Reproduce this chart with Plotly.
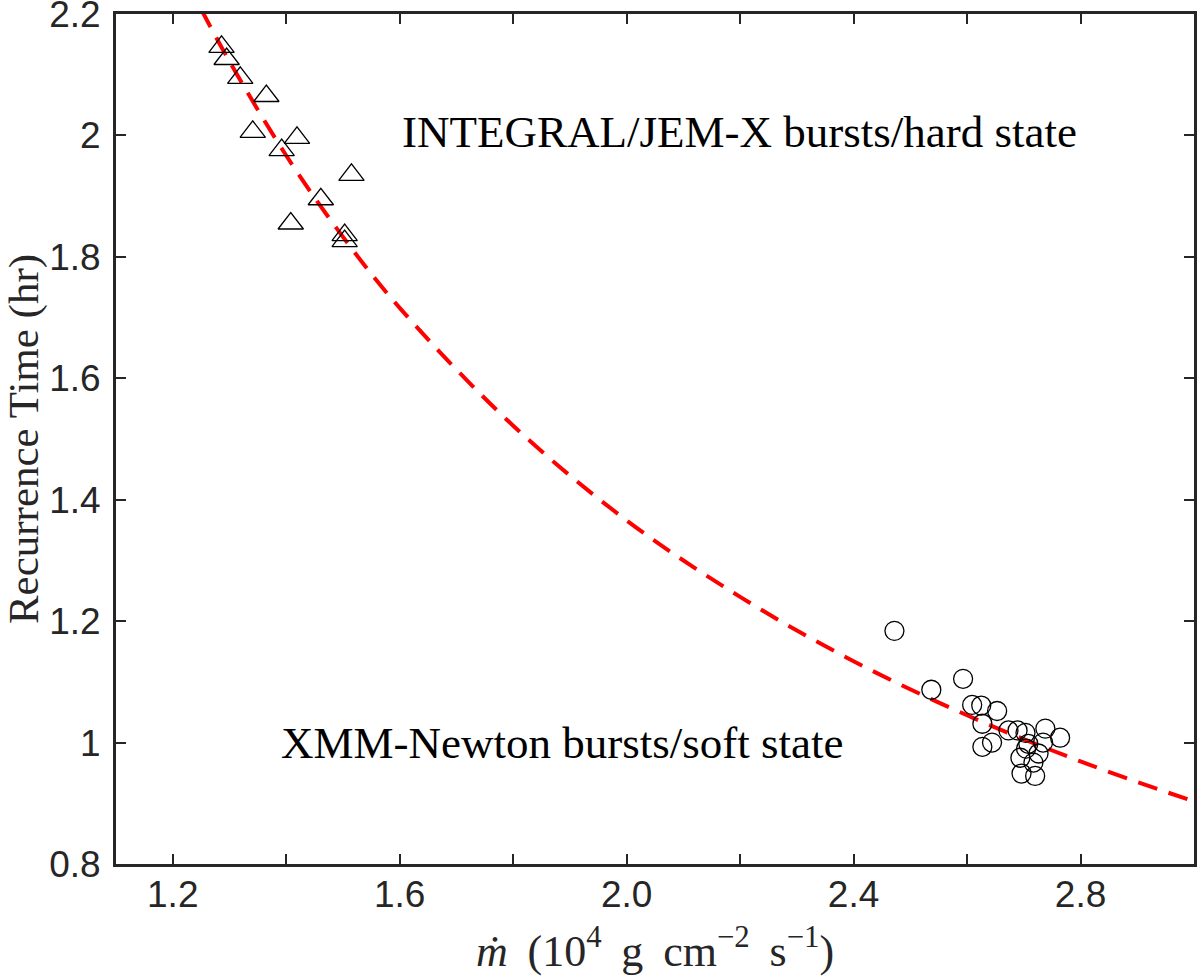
import plotly.graph_objects as go

# INTEGRAL/JEM-X bursts (hard state)
integral_mdot = [1.286, 1.295, 1.319, 1.365, 1.341, 1.419, 1.392, 1.515, 1.461, 1.408, 1.503, 1.503]
integral_trec = [2.146, 2.126, 2.095, 2.065, 2.006, 1.996, 1.976, 1.935, 1.895, 1.855, 1.836, 1.826]

# XMM-Newton bursts (soft state)
xmm_mdot = [2.472, 2.537, 2.593, 2.609, 2.625, 2.653, 2.627, 2.644, 2.627, 2.673, 2.689,
            2.703, 2.738, 2.764, 2.734, 2.708, 2.694, 2.726, 2.717, 2.696, 2.720, 2.704]
xmm_trec = [1.184, 1.087, 1.105, 1.062, 1.061, 1.052, 1.031, 1.000, 0.993, 1.020, 1.020,
            1.016, 1.023, 1.008, 1.000, 0.998, 0.975, 0.982, 0.967, 0.949, 0.945, 0.990]

# fitted relation
fit_mdot = [1.25, 1.3, 1.4, 1.5, 1.6, 1.8, 2.0, 2.2, 2.4, 2.6, 2.8, 3.0]
fit_trec = [2.208, 2.122, 1.967, 1.833, 1.716, 1.522, 1.366, 1.240, 1.134, 1.045, 0.969, 0.903]

x_ticks = [1.2, 1.4, 1.6, 1.8, 2.0, 2.2, 2.4, 2.6, 2.8]
x_ticktext = ["1.2", " ", "1.6", " ", "2.0", " ", "2.4", " ", "2.8"]
y_ticks = [0.8, 1.0, 1.2, 1.4, 1.6, 1.8, 2.0, 2.2]
y_ticktext = ["0.8", "1", "1.2", "1.4", "1.6", "1.8", "2", "2.2"]

axis_col = "#262626"
serif = "Liberation Serif, Times New Roman, serif"
sans = "Liberation Sans, Arial, sans-serif"
thin = "\u2009"

fig = go.Figure()
fig.add_trace(go.Scatter(x=fit_mdot, y=fit_trec, mode="lines", line_shape="spline",
                         line=dict(color="#ff0000", width=4, dash="20px,12px"),
                         showlegend=False))
fig.add_trace(go.Scatter(x=integral_mdot, y=integral_trec, mode="markers",
                         marker=dict(symbol="triangle-up-open", size=22, color="black",
                                     line=dict(width=1.3, color="black")),
                         showlegend=False))
fig.add_trace(go.Scatter(x=xmm_mdot, y=xmm_trec, mode="markers",
                         marker=dict(symbol="circle-open", size=19, color="black",
                                     line=dict(width=1.3, color="black")),
                         showlegend=False))

fig.add_annotation(x=1.6, y=2.005, text="INTEGRAL/JEM-X bursts/hard state", showarrow=False,
                   xanchor="left", yanchor="middle", font=dict(family=serif, size=45, color="black"))
fig.add_annotation(x=1.387, y=1.0, text="XMM-Newton bursts/soft state", showarrow=False,
                   xanchor="left", yanchor="middle", font=dict(family=serif, size=45, color="black"))

common = dict(showline=True, linecolor=axis_col, linewidth=3, mirror="ticks",
              ticks="inside", ticklen=10, tickwidth=2, tickcolor=axis_col,
              showgrid=False, zeroline=False, automargin=False, ticklabeloverflow="allow",
              tickfont=dict(family=sans, size=37, color=axis_col))

x_title = ("<i>ṁ</i>" + thin + " (10<sup>4</sup>" + thin + " g" + thin + " cm<sup>−2</sup>"
           + thin + " s<sup>−1</sup>)")
fig.update_xaxes(range=[1.1, 3.0], tickvals=x_ticks, ticktext=x_ticktext,
                 ticklabelstandoff=-4,
                 title=dict(text=x_title, font=dict(family=serif, size=44, color=axis_col),
                            standoff=21),
                 **common)
fig.update_yaxes(range=[0.8, 2.2001], tickvals=y_ticks, ticktext=y_ticktext,
                 ticklabelstandoff=5,
                 title=dict(text="Recurrence Time (hr)",
                            font=dict(family=serif, size=43, color=axis_col), standoff=29),
                 **common)

fig.update_layout(width=1200, height=977, margin=dict(l=116, r=6, t=14, b=113),
                  plot_bgcolor="white", paper_bgcolor="white")

# drop the default body margin so the figure sits at the page corner
fig.write_html("out.html", config={"displayModeBar": False},
               post_script="document.body.style.margin = '0';")
